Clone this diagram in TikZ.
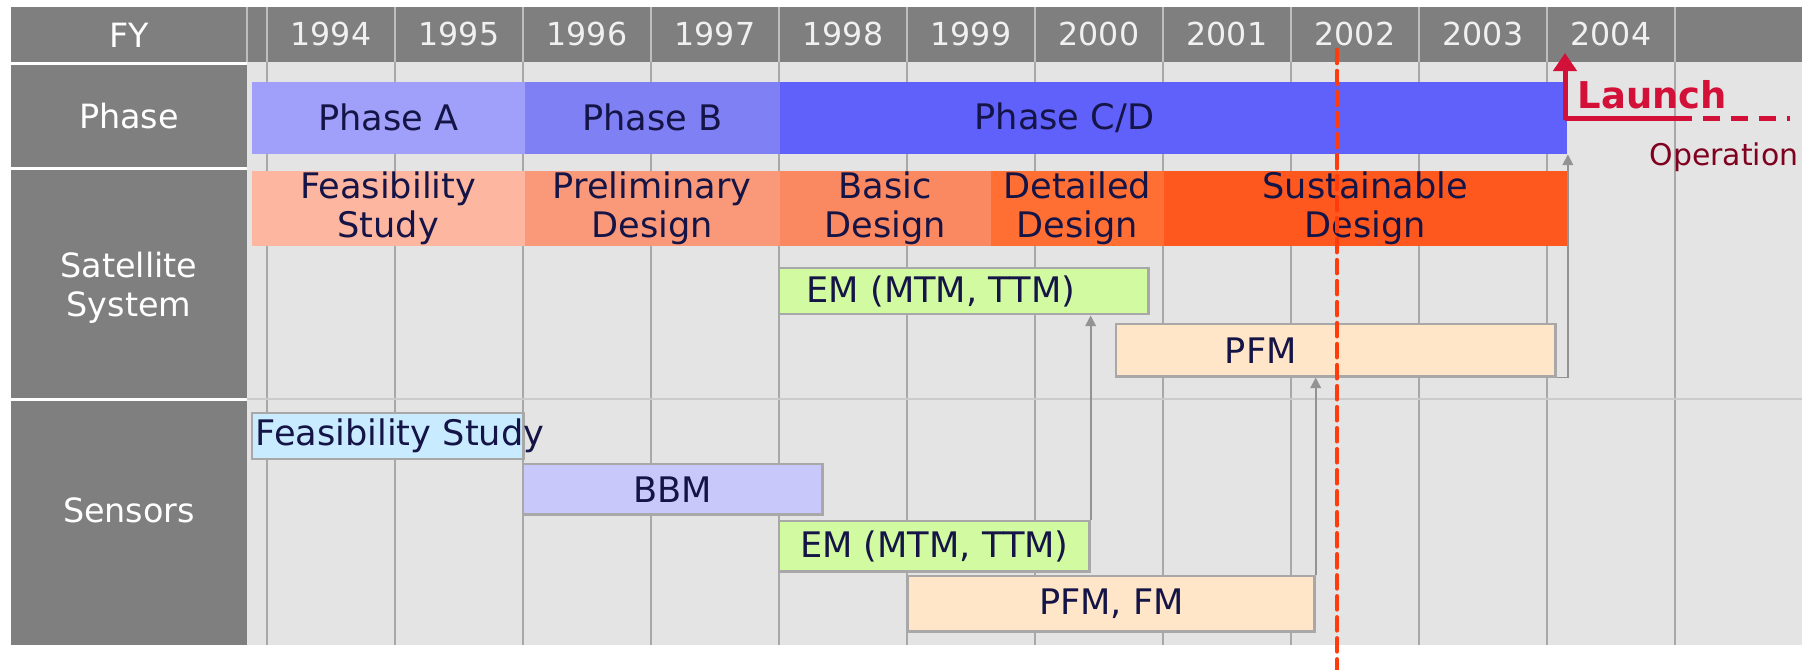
\documentclass[tikz,border=0pt]{standalone}
\usepackage{fontspec}
\setmainfont{DejaVu Sans}
\usetikzlibrary{arrows.meta}
\definecolor{HeadGray}{RGB}{127,127,127}
\definecolor{ChartBg}{RGB}{228,228,228}
\definecolor{GridGray}{RGB}{168,168,168}
\definecolor{SepGray}{RGB}{190,190,190}
\definecolor{BarText}{RGB}{20,20,70}
\definecolor{PhaseA}{RGB}{160,160,250}
\definecolor{PhaseB}{RGB}{128,128,245}
\definecolor{PhaseCD}{RGB}{96,96,250}
\definecolor{DesFeas}{RGB}{253,182,160}
\definecolor{DesPrelim}{RGB}{250,152,122}
\definecolor{DesBasic}{RGB}{250,136,96}
\definecolor{DesDetail}{RGB}{255,110,50}
\definecolor{DesSust}{RGB}{255,88,30}
\definecolor{EMGreen}{RGB}{210,250,160}
\definecolor{PFMPeach}{RGB}{255,230,200}
\definecolor{FeasBlue}{RGB}{200,235,255}
\definecolor{BBMLav}{RGB}{200,200,250}
\definecolor{NowRed}{RGB}{255,60,10}
\definecolor{LaunchRed}{RGB}{210,16,56}
\definecolor{OperRed}{RGB}{128,0,32}
\tikzset{
    rowlabel/.style={text=white,font=\fontsize{9.5}{11}\selectfont,align=center},
    yearlabel/.style={text=white!94!black,font=\fontsize{9}{11}\selectfont},
    bar/.style={anchor=north west,inner sep=0pt,text=BarText,
                font=\fontsize{10}{11}\selectfont,align=center},
    taskbar/.style={bar,draw=GridGray,line width=0.7pt},
    bartext/.style={text=BarText,font=\fontsize{10}{11}\selectfont,inner sep=0pt},
    gridline/.style={GridGray,line width=0.6pt},
    headsep/.style={SepGray,line width=0.6pt},
    rowsep/.style={white,line width=0.03cm},
    link/.style={draw=gray!85,line width=0.5pt},
    nowline/.style={NowRed,line width=0.046cm,line cap=round,dash pattern=on 0.13cm off 0.08cm},
    launchline/.style={LaunchRed,line width=0.05cm}
}
\begin{document}
\begin{tikzpicture}[x=0.01cm,y=-0.01cm]
    \useasboundingbox (0,0) rectangle (1802,669);
    \fill[white] (0,0) rectangle (1802,669);
    \fill[ChartBg] (247,62) rectangle (1802,645);
    \fill[HeadGray] (11,7) rectangle (1802,62);
    \fill[HeadGray] (11,62) rectangle (247,645);

    \foreach \k in {0,...,11} {
        \draw[gridline] ({267+128*\k},62) -- ({267+128*\k},645);
        \draw[headsep] ({267+128*\k},7) -- ({267+128*\k},62);
    }
    \draw[headsep] (247,7) -- (247,62);
    \draw[gridline,GridGray!60] (247,399) -- (1802,399);
    \draw[rowsep] (11,63) -- (247,63);
    \draw[rowsep] (11,168) -- (247,168);
    \draw[rowsep] (11,399) -- (247,399);

    \node[rowlabel] (fyLbl) at (129,35) {FY};
    \node[rowlabel] (phaseLbl) at (129,116) {Phase};
    \node[rowlabel] (satLbl) at (129,288) {Satellite\\System};
    \node[rowlabel] (senLbl) at (129,510) {Sensors};
    \foreach \yr [count=\k from 0] in {1994,...,2004}
        \node[yearlabel] (yr\yr) at ({331+128*\k},34) {\yr};

    \node[bar,fill=PhaseA,minimum width=2.73cm,minimum height=0.72cm] (phA) at (251,81) {Phase A};
    \node[bar,fill=PhaseB,minimum width=2.55cm,minimum height=0.72cm] (phB) at (524,81) {Phase B};
    \node[bar,fill=PhaseCD,minimum width=7.87cm,minimum height=0.72cm,
          label={[bartext,xshift=-1.09cm]center:Phase C/D}] (phCD) at (779,81) {};

    \node[bar,fill=DesFeas,minimum width=2.73cm,minimum height=0.75cm] (desFeas) at (251,170) {Feasibility\\Study};
    \node[bar,fill=DesPrelim,minimum width=2.55cm,minimum height=0.75cm] (desPre) at (524,170) {Preliminary\\Design};
    \node[bar,fill=DesBasic,minimum width=2.11cm,minimum height=0.75cm] (desBas) at (779,170) {Basic\\Design};
    \node[bar,fill=DesDetail,minimum width=1.73cm,minimum height=0.75cm] (desDet) at (990,170) {Detailed\\Design};
    \node[bar,fill=DesSust,minimum width=4.03cm,minimum height=0.75cm] (desSus) at (1163,170) {Sustainable\\Design};

    \node[taskbar,fill=EMGreen,minimum width=3.69cm,minimum height=0.46cm,
          label={[bartext,xshift=-0.23cm]center:EM (MTM, TTM)}] (emSat) at (778,267) {};
    \node[taskbar,fill=PFMPeach,minimum width=4.39cm,minimum height=0.52cm,
          label={[bartext,xshift=-0.75cm]center:PFM}] (pfmSat) at (1115,323) {};

    \node[taskbar,fill=FeasBlue,minimum width=2.71cm,minimum height=0.46cm,
          label={[bartext,anchor=west,xshift=0.04cm]west:Feasibility Study}] (feasSen) at (251,412) {};
    \node[taskbar,fill=BBMLav,minimum width=2.99cm,minimum height=0.50cm] (bbm) at (522,463) {BBM};
    \node[taskbar,fill=EMGreen,minimum width=3.10cm,minimum height=0.50cm] (emSen) at (778,520) {EM (MTM, TTM)};
    \node[taskbar,fill=PFMPeach,minimum width=4.06cm,minimum height=0.55cm] (pfmFm) at (907,575) {PFM, FM};

    \draw[link,{Triangle[width=3pt,length=3pt]}-] (emSat.south -| emSen.east) -- (emSen.north east);
    \draw[link,{Triangle[width=3pt,length=3pt]}-] (pfmSat.south -| pfmFm.east) -- (pfmFm.north east);
    \draw[link,{Triangle[width=3pt,length=3pt]}-] (phCD.south east) |- (pfmSat.south east);

    \coordinate (launchBase) at (1565,120);
    \coordinate (launchTip) at (1565,53);
    \coordinate (opStart) at (1675,118);
    \coordinate (opEnd) at (1790,118);
    \draw[launchline,-{Triangle[width=0.23cm,length=0.18cm]}] (launchBase) -- (launchTip);
    \draw[launchline] (launchBase |- opStart) -- (opStart);
    \draw[launchline,dash pattern=on 0.17cm off 0.11cm] (opStart) -- (opEnd);
    \node[anchor=west,inner sep=0pt,text=LaunchRed,font=\fontsize{10.5}{12}\selectfont\bfseries] (launchLbl) at (1577,95) {Launch};
    \node[anchor=west,inner sep=0pt,text=OperRed,font=\fontsize{8.5}{10}\selectfont] (operLbl) at (1649,157) {Operation};

    \coordinate (nowTop) at (1337,50);
    \coordinate (nowBot) at (1337,669);
    \draw[nowline] (nowTop) -- (nowBot);
\end{tikzpicture}
\end{document}
